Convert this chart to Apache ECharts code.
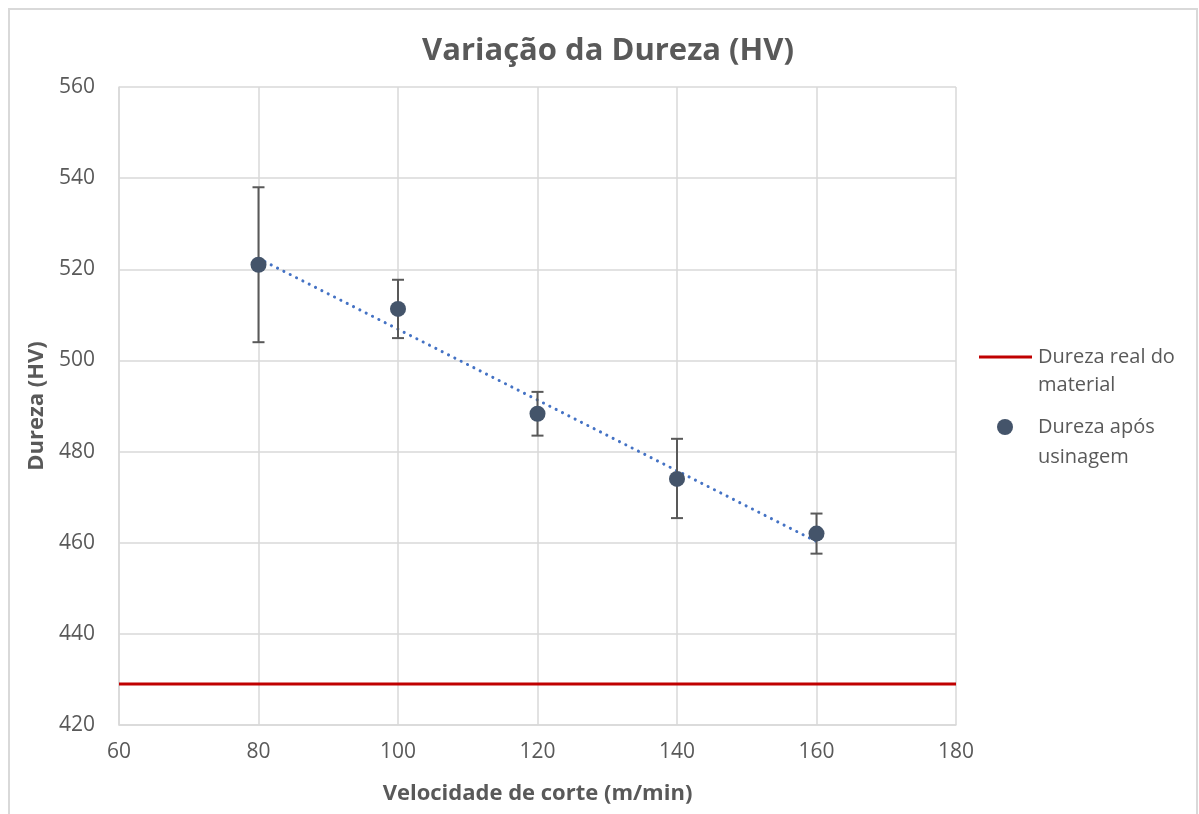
<!DOCTYPE html>
<html>
<head>
<meta charset="utf-8">
<script src="https://cdn.jsdelivr.net/npm/echarts@6/dist/echarts.min.js"></script>
<style>
html,body{margin:0;padding:0;background:#fff;overflow:hidden;width:1199px;height:814px;}
#frame{position:absolute;left:8px;top:8px;width:1190px;height:806px;border-left:2px solid #d9d9d9;border-top:2px solid #d9d9d9;border-right:2px solid #d9d9d9;box-sizing:border-box;}
#chart{position:absolute;left:0;top:0;width:1199px;height:814px;}
</style>
</head>
<body>
<div id="frame"></div>
<div id="chart"></div>
<script>
// Data
const velocidade = [80, 100, 120, 140, 160];
const dureza = [521.0, 511.3, 488.3, 474.0, 462.0];
const erroSup = [538.0, 517.7, 493.1, 482.8, 466.4];
const erroInf = [504.0, 504.9, 483.5, 465.4, 457.6];
const durezaReal = 429;
const xRange = [60, 180];
const yRange = [420, 560];

// linear trendline (least squares) from the data points
const n = velocidade.length;
const mx = velocidade.reduce((a,b)=>a+b,0)/n;
const my = dureza.reduce((a,b)=>a+b,0)/n;
let sxy=0, sxx=0;
for (let i=0;i<n;i++){ sxy+=(velocidade[i]-mx)*(dureza[i]-my); sxx+=(velocidade[i]-mx)**2; }
const slope = sxy/sxx, icpt = my - slope*mx;
const trend = [[velocidade[0], icpt+slope*velocidade[0]], [velocidade[n-1], icpt+slope*velocidade[n-1]]];

const FONT = "'Open Sans', sans-serif";
const chart = echarts.init(document.getElementById('chart'));
chart.setOption({
  animation: false,
  title: {
    text: 'Variação da Dureza (HV)', left: 603, top: 31, textAlign: 'center',
    textStyle: {fontFamily: FONT, fontSize: 31, fontWeight: 'bold', color: '#595959'}
  },
  grid: {left: 119, top: 87, width: 837, height: 638, containLabel: false},
  xAxis: {
    type: 'value', min: xRange[0], max: xRange[1], interval: 20,
    name: 'Velocidade de corte (m/min)', nameLocation: 'middle', nameGap: 58,
    nameTextStyle: {fontFamily: FONT, fontSize: 22, fontWeight: 'bold', color: '#595959'},
    axisLine: {show: true, lineStyle: {color: '#d9d9d9', width: 1.5}},
    axisTick: {show: false},
    axisLabel: {fontFamily: FONT, fontSize: 21, color: '#595959', margin: 17},
    splitLine: {show: true, lineStyle: {color: '#d9d9d9', width: 1.5}}
  },
  yAxis: {
    type: 'value', min: yRange[0], max: yRange[1], interval: 20,
    name: 'Dureza (HV)', nameLocation: 'middle', nameGap: 70, nameRotate: 90,
    nameTextStyle: {fontFamily: FONT, fontSize: 22, fontWeight: 'bold', color: '#595959'},
    axisLine: {show: true, lineStyle: {color: '#d9d9d9', width: 1.5}},
    axisTick: {show: false},
    axisLabel: {fontFamily: FONT, fontSize: 21, color: '#595959', margin: 24},
    splitLine: {show: true, lineStyle: {color: '#d9d9d9', width: 1.5}}
  },
  series: [
    {
      name: 'Dureza real do material', type: 'line',
      data: [[xRange[0], durezaReal], [xRange[1], durezaReal]],
      symbol: 'none', lineStyle: {color: '#C00000', width: 3}, z: 3
    },
    {
      name: 'Tendência', type: 'line', data: trend, symbol: 'none',
      lineStyle: {color: '#4472C4', width: 3, type: [0.1, 7], cap: 'round'}, z: 4
    },
    {
      name: 'Erro', type: 'custom',
      data: velocidade.map((v,i)=>[v, erroInf[i], erroSup[i]]),
      renderItem: function(params, api){
        const lo = api.coord([api.value(0), api.value(1)]);
        const hi = api.coord([api.value(0), api.value(2)]);
        const w = 6;
        const st = {stroke: '#595959', lineWidth: 2};
        return {type: 'group', children: [
          {type: 'line', shape: {x1: lo[0], y1: lo[1], x2: hi[0], y2: hi[1]}, style: st},
          {type: 'line', shape: {x1: lo[0]-w, y1: lo[1], x2: lo[0]+w, y2: lo[1]}, style: st},
          {type: 'line', shape: {x1: hi[0]-w, y1: hi[1], x2: hi[0]+w, y2: hi[1]}, style: st}
        ]};
      }, z: 5
    },
    {
      name: 'Dureza após usinagem', type: 'scatter',
      data: velocidade.map((v,i)=>[v, dureza[i]]),
      symbol: 'circle', symbolSize: 16, itemStyle: {color: '#44546A', opacity: 1}, z: 6
    }
  ],
  graphic: [
    {type: 'line', shape: {x1: 979, y1: 357, x2: 1032, y2: 357}, style: {stroke: '#C00000', lineWidth: 3}},
    {type: 'text', left: 1038, top: 343, style: {text: 'Dureza real do\nmaterial', fontFamily: FONT, fontSize: 20, lineHeight: 28, fill: '#595959'}},
    {type: 'circle', shape: {cx: 1005, cy: 427, r: 8}, style: {fill: '#44546A'}},
    {type: 'text', left: 1038, top: 412, style: {text: 'Dureza após\nusinagem', fontFamily: FONT, fontSize: 20, lineHeight: 30, fill: '#595959'}}
  ]
});
</script>
</body>
</html>
